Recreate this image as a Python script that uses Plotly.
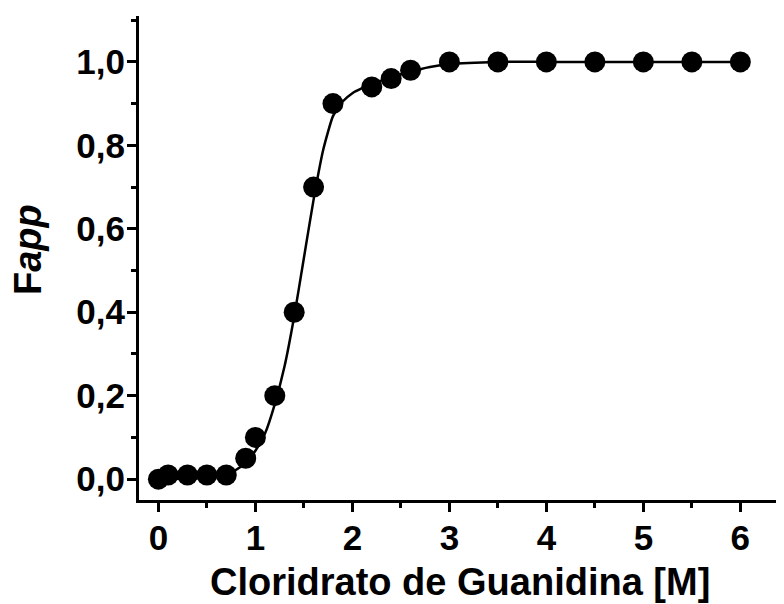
import plotly.graph_objects as go

# Data points
gdn_conc = [0.0, 0.1, 0.3, 0.5, 0.7, 0.9, 1.0, 1.2, 1.4, 1.6, 1.8, 2.2, 2.4, 2.6, 3.0, 3.5, 4.0, 4.5, 5.0, 5.5, 6.0]
fapp = [0.0, 0.01, 0.01, 0.01, 0.01, 0.05, 0.10, 0.20, 0.40, 0.70, 0.90, 0.94, 0.96, 0.98, 1.0, 1.0, 1.0, 1.0, 1.0, 1.0, 1.0]

# Fitted curve
fit_x = [0.0, 0.4, 0.6, 0.8, 0.9, 1.0, 1.1, 1.2, 1.3, 1.4, 1.5, 1.6, 1.7, 1.8, 1.9, 2.0, 2.1, 2.2, 2.4, 2.6, 2.8, 3.0, 3.5, 4.0, 5.0, 6.0]
fit_y = [0.0, 0.002, 0.007, 0.022, 0.04, 0.068, 0.11, 0.18, 0.27, 0.39, 0.53, 0.67, 0.79, 0.87, 0.905, 0.925, 0.937, 0.947, 0.963, 0.977, 0.988, 0.995, 1.0, 1.0, 1.0, 1.0]

x_ticks = [0, 1, 2, 3, 4, 5, 6]
y_ticks = [0.0, 0.2, 0.4, 0.6, 0.8, 1.0]

FONT = "Liberation Sans, Arial, sans-serif"

fig = go.Figure()
fig.add_trace(go.Scatter(x=fit_x, y=fit_y, mode="lines",
                         line=dict(color="black", width=2.5, shape="spline", smoothing=0.5),
                         hoverinfo="skip", showlegend=False))
fig.add_trace(go.Scatter(x=gdn_conc, y=fapp, mode="markers",
                         marker=dict(color="black", size=21),
                         showlegend=False))

tick_font = dict(family=FONT, size=35, color="black", weight="bold")

fig.update_layout(
    width=784, height=604,
    margin=dict(l=131, r=8, t=8, b=112),
    paper_bgcolor="white", plot_bgcolor="white",
    separators=",.",
    showlegend=False,
    annotations=[
        dict(text="Cloridrato de Guanidina [M]", xref="paper", yref="paper",
             x=0.4977, y=-0.1694, xanchor="center", yanchor="middle", showarrow=False,
             font=dict(family=FONT, size=38, color="black", weight="bold")),
        dict(text="F<i>app</i>", xref="paper", yref="paper", textangle=-90,
             x=-0.172, y=0.5165, xanchor="center", yanchor="middle", showarrow=False,
             font=dict(family=FONT, size=38, color="black", weight="bold")),
    ],
)
fig.update_xaxes(
    range=[-0.2, 6.45], automargin=False,
    tickmode="array", tickvals=x_ticks,
    showgrid=False, zeroline=False,
    showline=True, linecolor="black", linewidth=3,
    ticks="outside", ticklen=9, tickwidth=3, tickcolor="black",
    minor=dict(ticks="outside", ticklen=5, tickwidth=3, tickcolor="black", dtick=0.5, tick0=0),
    tickfont=tick_font,
    ticklabelstandoff=-4,
)
fig.update_yaxes(
    range=[-0.05, 1.11], automargin=False,
    tickmode="array", tickvals=y_ticks, tickformat=".1f",
    showgrid=False, zeroline=False,
    showline=True, linecolor="black", linewidth=3,
    ticks="outside", ticklen=9, tickwidth=3, tickcolor="black",
    minor=dict(ticks="outside", ticklen=5, tickwidth=3, tickcolor="black", dtick=0.1, tick0=0),
    tickfont=tick_font,
    ticklabelstandoff=-5,
)

fig.write_html("out.html")
